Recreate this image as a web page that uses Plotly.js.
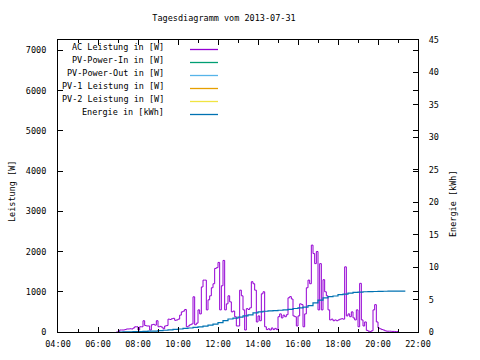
<!DOCTYPE html>
<html>
<head>
<meta charset="utf-8">
<script src="https://cdn.plot.ly/plotly-3.0.1.min.js"></script>
<style>html,body{margin:0;padding:0;background:#fff}#chart{width:480px;height:360px}</style>
</head>
<body>
<div id="chart"></div>
<script>
var chartDate = '2013-07-31';
var chartTitle = 'Tagesdiagramm vom 2013-07-31';
var seriesNames = ['AC Leistung in [W]', 'PV-Power-In in [W]', 'PV-Power-Out in [W]', 'PV-1 Leistung in [W]', 'PV-2 Leistung in [W]', 'Energie in [kWh]'];
var seriesColors = ['#9400D3', '#009E73', '#56B4E9', '#E69F00', '#F0E442', '#0072B2'];

var acTimes = ['06:55','07:00','07:05','07:10','07:15','07:20','07:25','07:30','07:35','07:40','07:45','07:50','07:55',
'08:00','08:05','08:10','08:15','08:20','08:25','08:30','08:35','08:40','08:45','08:50','08:55',
'09:00','09:05','09:10','09:15','09:20','09:25','09:30','09:35','09:40','09:45','09:50','09:55',
'10:00','10:05','10:10','10:15','10:20','10:25','10:30','10:35','10:40','10:45','10:50','10:55',
'11:00','11:05','11:10','11:15','11:20','11:25','11:30','11:35','11:40','11:45','11:50','11:55',
'12:00','12:05','12:10','12:15','12:20','12:25','12:30','12:35','12:40','12:45','12:50','12:55',
'13:00','13:05','13:10','13:15','13:20','13:25','13:30','13:35','13:40','13:45','13:50','13:55',
'14:00','14:05','14:10','14:15','14:20','14:25','14:30','14:35','14:40','14:45','14:50','14:55',
'15:00','15:05','15:10','15:15','15:20','15:25','15:30','15:35','15:40','15:45','15:50','15:55',
'16:00','16:05','16:10','16:15','16:20','16:25','16:30','16:35','16:40','16:45','16:50','16:55',
'17:00','17:05','17:10','17:15','17:20','17:25','17:30','17:35','17:40','17:45','17:50','17:55',
'18:00','18:05','18:10','18:15','18:20','18:25','18:30','18:35','18:40','18:45','18:50','18:55',
'19:00','19:05','19:10','19:15','19:20','19:25','19:30','19:35','19:40','19:45','19:50','19:55',
'20:00','20:05','20:10','20:15','20:20','20:25','20:30','20:35','20:40','20:45','20:50','20:55','21:00'];
var acPower = [0,10,50,50,50,60,75,75,80,75,100,130,130,
50,130,130,280,160,150,150,50,180,190,170,280,
130,140,120,80,150,160,320,310,330,340,290,300,
320,420,500,520,560,130,150,180,200,875,180,220,
550,450,1120,1290,1290,550,800,900,1100,1200,1580,1600,
1730,550,1150,1780,550,700,900,750,500,520,380,150,
150,1040,900,550,50,580,560,600,1250,1200,1040,250,
400,280,950,1000,130,60,80,50,100,60,90,60,
380,450,350,420,380,430,850,880,820,400,380,150,
400,700,680,130,450,1100,1290,1200,2160,1950,1700,2000,
550,1700,550,1300,1000,900,550,300,320,280,300,280,
300,320,330,320,1620,400,450,380,500,350,300,550,
130,1210,300,150,250,40,20,10,30,550,680,250,
100,80,60,50,30,20,20,20,15,15,10,10,0];

var enTimes = ['07:00','07:15','07:30','07:45','08:00','08:15','08:30','08:45','09:00','09:15','09:30','09:45',
'10:00','10:15','10:30','10:45','11:00','11:15','11:30','11:45','12:00','12:15','12:30','12:45',
'13:00','13:15','13:30','13:45','14:00','14:15','14:30','14:45','15:00','15:15','15:30','15:45',
'16:00','16:15','16:30','16:45','17:00','17:15','17:30','17:45','18:00','18:15','18:30','18:45',
'19:00','19:15','19:30','19:45','20:00','20:15','20:30','21:00','21:22'];
var energy = [0,0.02,0.04,0.06,0.08,0.1,0.12,0.15,0.22,0.27,0.33,0.4,
0.46,0.55,0.62,0.7,0.78,0.9,1.05,1.2,1.45,1.75,2.0,2.15,
2.3,2.5,2.65,2.95,3.1,3.2,3.25,3.3,3.35,3.42,3.5,3.62,
3.72,3.82,4.05,4.5,4.9,5.25,5.45,5.55,5.75,5.85,6.0,6.1,
6.15,6.2,6.22,6.24,6.27,6.28,6.3,6.3,6.3];

function ts(t){ return chartDate + ' ' + t; }

var FONT = {family: 'DejaVu Sans Mono, monospace', size: 8.5, color: '#000'};

var traces = [
  {x: acTimes.map(ts), y: acPower, type: 'scatter', mode: 'lines', line: {color: seriesColors[0], width: 1, shape: 'hv'}, xaxis: 'x', yaxis: 'y', showlegend: false},
  {x: enTimes.map(ts), y: energy, type: 'scatter', mode: 'lines', line: {color: seriesColors[5], width: 1.2, shape: 'hv'}, xaxis: 'x', yaxis: 'y2', showlegend: false}
];

// legend (gnuplot style: right-aligned text, sample on the right)
var L = 58, R = 418, T = 40, B = 332;
function px(x){ return (x - L) / (R - L); }
function py(y){ return (B - y) / (B - T); }
var annotations = [], shapes = [];
for (var i = 0; i < seriesNames.length; i++) {
  var ty = 47 + i * 12.9;
  var ly = Math.round(ty + 2) + 0.5;
  annotations.push({text: seriesNames[i], xref: 'paper', yref: 'paper', x: px(166), y: py(ty), xanchor: 'right', yanchor: 'middle', showarrow: false, font: FONT});
  shapes.push({type: 'line', xref: 'paper', yref: 'paper', x0: px(190), x1: px(218), y0: py(ly), y1: py(ly), line: {color: seriesColors[i], width: 1.3}});
}
annotations.push({text: 'Leistung [W]', xref: 'paper', yref: 'paper', x: px(12), y: py(192), xanchor: 'center', yanchor: 'middle', textangle: -90, showarrow: false, font: FONT});
annotations.push({text: 'Energie [kWh]', xref: 'paper', yref: 'paper', x: px(453), y: py(204), xanchor: 'center', yanchor: 'middle', textangle: -90, showarrow: false, font: FONT});

var layout = {
  width: 480, height: 360,
  margin: {l: 58, r: 62, t: 40, b: 28, pad: 0},
  paper_bgcolor: '#fff', plot_bgcolor: '#fff',
  title: {text: chartTitle, font: FONT, x: 224/480, xref: 'container', xanchor: 'center', y: 1 - 18/360, yref: 'container', yanchor: 'middle'},
  showlegend: false,
  xaxis: {type: 'date', range: [ts('04:00'), ts('22:00')], dtick: 7200000, tick0: ts('04:00'), tickformat: '%H:%M',
    ticks: 'inside', ticklen: 5, tickcolor: '#000', tickfont: FONT, showgrid: false, zeroline: false,
    showline: true, linecolor: '#000', linewidth: 1, mirror: 'ticks', ticklabelstandoff: 4,
    minor: {dtick: 3600000, ticks: 'inside', ticklen: 3, tickcolor: '#000'}},
  yaxis: {range: [0, 7260], dtick: 1000, tick0: 0, ticks: 'inside', ticklen: 5, tickcolor: '#000', tickfont: FONT,
    showgrid: false, zeroline: false, showline: true, linecolor: '#000', linewidth: 1, mirror: 'ticks', ticklabelstandoff: 9},
  yaxis2: {range: [0, 45], dtick: 5, tick0: 0, overlaying: 'y', side: 'right', ticks: 'inside', ticklen: 5, tickcolor: '#000',
    tickfont: FONT, showgrid: false, zeroline: false, showline: true, linecolor: '#000', linewidth: 1, ticklabelstandoff: 8},
  annotations: annotations,
  shapes: shapes
};

Plotly.newPlot('chart', traces, layout, {staticPlot: true, displayModeBar: false});
</script>
</body>
</html>
